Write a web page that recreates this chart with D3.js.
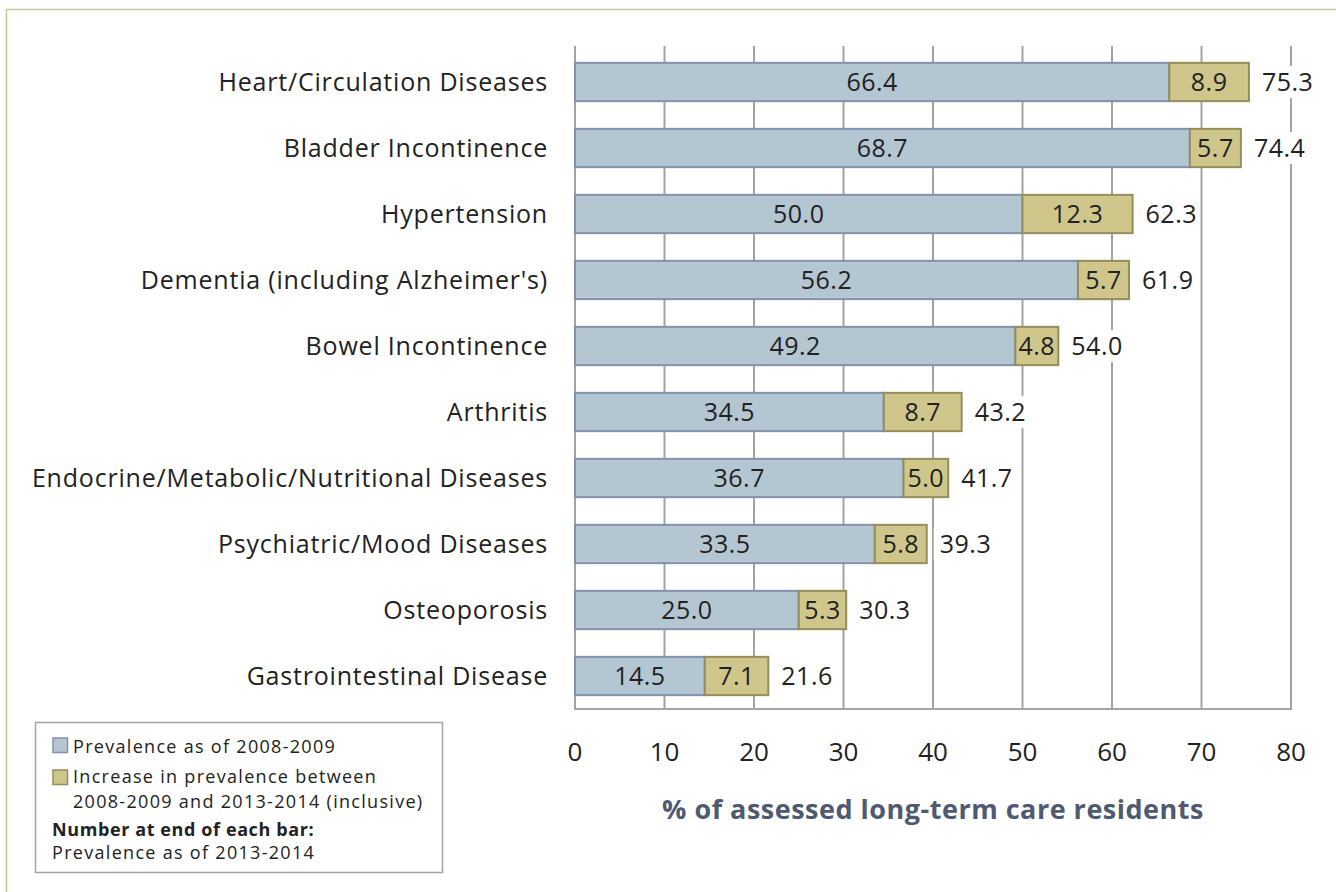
<!DOCTYPE html>
<html>
<head>
<meta charset="utf-8">
<script src="https://d3js.org/d3.v7.min.js"></script>
<style>
  body { margin: 0; background: #fff; }
  svg text { font-family: "Open Sans", "Noto Sans", sans-serif; }
</style>
</head>
<body>
<svg width="1336" height="892"></svg>
<script>
    // chart data
    const categories = [
        'Heart/Circulation Diseases',
        'Bladder Incontinence',
        'Hypertension',
        "Dementia (including Alzheimer's)",
        'Bowel Incontinence',
        'Arthritis',
        'Endocrine/Metabolic/Nutritional Diseases',
        'Psychiatric/Mood Diseases',
        'Osteoporosis',
        'Gastrointestinal Disease'
    ];
    const prevalence2008 = [66.4, 68.7, 50.0, 56.2, 49.2, 34.5, 36.7, 33.5, 25.0, 14.5];
    const increase = [8.9, 5.7, 12.3, 5.7, 4.8, 8.7, 5.0, 5.8, 5.3, 7.1];
    const prevalence2013 = [75.3, 74.4, 62.3, 61.9, 54.0, 43.2, 41.7, 39.3, 30.3, 21.6];
    const xTicks = [0, 10, 20, 30, 40, 50, 60, 70, 80];

    const svg = d3.select('svg');

    // outer frame
    svg.append('path')
        .attr('d', 'M6.5,900 L6.5,9.5 L1340,9.5')
        .attr('fill', 'none')
        .attr('stroke', '#c9c59c')
        .attr('stroke-width', 1.5);

    const mLeft = 575, mRight = 1291, mTop = 49, mBottom = 709;

    const x = d3.scaleLinear().domain([0, 80]).range([mLeft, mRight]);
    const y = d3.scaleBand().domain(categories).range([mTop, mBottom]).paddingInner(0.42).paddingOuter(0.21);

    // gridlines
    svg.append('g').selectAll('line')
        .data(xTicks)
        .join('line')
        .attr('x1', d => x(d)).attr('x2', d => x(d))
        .attr('y1', mTop - 3).attr('y2', mBottom)
        .attr('stroke', '#a3a3a3')
        .attr('stroke-width', 2);

    // bottom axis line
    svg.append('line')
        .attr('x1', mLeft - 1).attr('x2', mRight + 1)
        .attr('y1', mBottom).attr('y2', mBottom)
        .attr('stroke', '#a3a3a3').attr('stroke-width', 2);

    const rows = categories.map((c, i) => ({
        name: c, base: prevalence2008[i], inc: increase[i], total: prevalence2013[i]
    }));

    const g = svg.append('g').selectAll('g').data(rows).join('g');

    // white backing for total labels so grid lines break behind them
    g.append('rect')
        .attr('x', d => x(d.total) + 7)
        .attr('y', d => y(d.name) + 3)
        .attr('width', 60)
        .attr('height', y.bandwidth() - 6)
        .attr('fill', '#fff');

    g.append('rect')
        .attr('x', x(0))
        .attr('y', d => y(d.name))
        .attr('width', d => x(d.base) - x(0))
        .attr('height', y.bandwidth())
        .attr('fill', '#b4c6d2')
        .attr('stroke', '#8391ad')
        .attr('stroke-width', 2);

    g.append('rect')
        .attr('x', d => x(d.base))
        .attr('y', d => y(d.name))
        .attr('width', d => x(d.total) - x(d.base))
        .attr('height', y.bandwidth())
        .attr('fill', '#cfc68b')
        .attr('stroke', '#958d5b')
        .attr('stroke-width', 2);

    const mid = d => y(d.name) + y.bandwidth() / 2;

    g.append('text')
        .attr('x', d => (x(0) + x(d.base)) / 2)
        .attr('y', mid)
        .attr('dy', '0.36em')
        .attr('text-anchor', 'middle')
        .attr('font-size', 25)
        .attr('letter-spacing', 0.5)
        .attr('fill', '#222')
        .text(d => d.base.toFixed(1));

    g.append('text')
        .attr('x', d => (x(d.base) + x(d.total)) / 2)
        .attr('y', mid)
        .attr('dy', '0.36em')
        .attr('text-anchor', 'middle')
        .attr('font-size', 25)
        .attr('letter-spacing', 0.5)
        .attr('fill', '#222')
        .text(d => d.inc.toFixed(1));

    g.append('text')
        .attr('x', d => x(d.total) + 13)
        .attr('y', mid)
        .attr('dy', '0.36em')
        .attr('font-size', 25)
        .attr('letter-spacing', 0.5)
        .attr('fill', '#222')
        .text(d => d.total.toFixed(1));

    // category labels
    g.append('text')
        .attr('x', mLeft - 27)
        .attr('y', mid)
        .attr('dy', '0.36em')
        .attr('text-anchor', 'end')
        .attr('font-size', 25)
        .attr('letter-spacing', 0.8)
        .attr('fill', '#222')
        .text(d => d.name);

    // tick labels
    svg.append('g').selectAll('text')
        .data(xTicks)
        .join('text')
        .attr('x', d => x(d))
        .attr('y', 752)
        .attr('dy', '0.36em')
        .attr('text-anchor', 'middle')
        .attr('font-size', 26)
        .attr('fill', '#222')
        .text(d => d);

    svg.append('text')
        .attr('x', (mLeft + mRight) / 2)
        .attr('y', 809)
        .attr('dy', '0.36em')
        .attr('text-anchor', 'middle')
        .attr('font-size', 27)
        .attr('letter-spacing', 0.5)
        .attr('font-weight', 'bold')
        .attr('fill', '#4f5a70')
        .text('% of assessed long-term care residents');

    // legend
    const lg = svg.append('g');
    lg.append('rect')
        .attr('x', 35.5).attr('y', 722.5).attr('width', 407).attr('height', 150)
        .attr('fill', '#fff').attr('stroke', '#a3a3a3').attr('stroke-width', 1.5);
    lg.append('rect').attr('x', 53).attr('y', 738).attr('width', 14.5).attr('height', 14.5)
        .attr('fill', '#b4c6d2').attr('stroke', '#8391ad').attr('stroke-width', 1.5);
    lg.append('rect').attr('x', 53).attr('y', 770).attr('width', 14.5).attr('height', 14.5)
        .attr('fill', '#cfc68b').attr('stroke', '#958d5b').attr('stroke-width', 1.5);
    const legendLines = [
        {t: 'Prevalence as of 2008-2009', x: 73, y: 747, b: false},
        {t: 'Increase in prevalence between', x: 73, y: 777, b: false},
        {t: '2008-2009 and 2013-2014 (inclusive)', x: 73, y: 802, b: false},
        {t: 'Number at end of each bar:', x: 52, y: 830, b: true},
        {t: 'Prevalence as of 2013-2014', x: 52, y: 853, b: false}
    ];
    lg.selectAll('text.l').data(legendLines).join('text')
        .attr('x', d => d.x).attr('y', d => d.y)
        .attr('dy', '0.36em')
        .attr('font-size', 18)
        .attr('letter-spacing', d => d.b ? 0.6 : 1.3)
        .attr('font-weight', d => d.b ? 'bold' : 'normal')
        .attr('fill', '#222')
        .text(d => d.t);
</script>
</body>
</html>
